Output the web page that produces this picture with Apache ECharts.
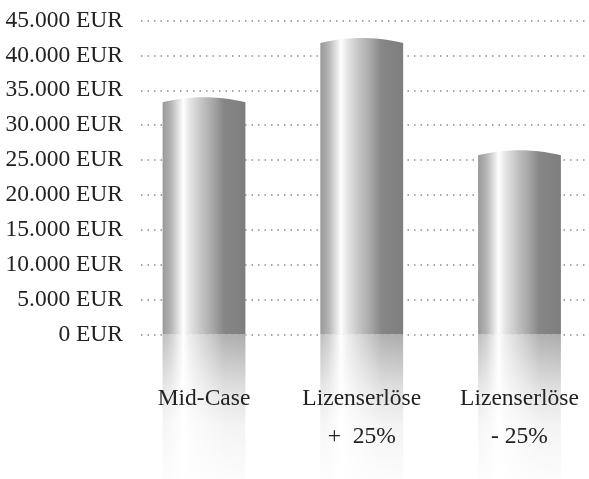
<!DOCTYPE html>
<html>
<head>
<meta charset="utf-8">
<script src="https://cdn.jsdelivr.net/npm/echarts@6/dist/echarts.min.js"></script>
<style>
  html, body { margin: 0; padding: 0; background: #fff; }
  #chart { width: 589px; height: 479px; }
</style>
</head>
<body>
<div id="chart"></div>
<script>
  'use strict'

  // data
  var categories = ['Mid-Case', 'Lizenserlöse\n+  25%', 'Lizenserlöse\n- 25%']
  var values = [34000, 42500, 26400]
  var yMin = 0
  var yMax = 45000
  var yStep = 5000

  var font = '"Liberation Serif", "Times New Roman", serif'

  function formatEur(v) {
    return String(v).replace(/\B(?=(\d{3})+(?!\d))/g, '.') + ' EUR'
  }

  function silver() {
    return new echarts.graphic.LinearGradient(0, 0, 1, 0, [
      { offset: 0, color: '#999999' },
      { offset: 0.1, color: '#b4b4b4' },
      { offset: 0.25, color: '#ffffff' },
      { offset: 0.32, color: '#e6e6e6' },
      { offset: 0.46, color: '#c6c6c6' },
      { offset: 0.62, color: '#a4a4a4' },
      { offset: 0.74, color: '#868686' },
      { offset: 1, color: '#7e7e7e' },
    ])
  }

  function renderBar(params, api) {
    var top = api.coord([api.value(0), api.value(1)])
    var base = api.coord([api.value(0), 0])
    var w = api.size([1, 0])[0] * 0.525
    var x0 = top[0] - w / 2
    var arc = 5
    var pts = [[x0, base[1]]]
    for (var i = 0; i <= 20; i++) {
      var t = i / 20
      var u = 2 * t - 1
      pts.push([x0 + w * t, top[1] + arc * u * u])
    }
    pts.push([x0 + w, base[1]])

    var reflH = 150
    return {
      type: 'group',
      children: [
        { type: 'polygon', shape: { points: pts }, style: { fill: silver() } },
        { type: 'rect', shape: { x: x0, y: base[1], width: w, height: reflH }, style: { fill: silver() } },
        {
          type: 'rect',
          shape: { x: x0 - 1, y: base[1], width: w + 2, height: reflH },
          style: {
            fill: new echarts.graphic.LinearGradient(0, 0, 0, 1, [
              { offset: 0, color: 'rgba(255,255,255,0.36)' },
              { offset: 0.35, color: 'rgba(255,255,255,0.74)' },
              { offset: 0.6, color: 'rgba(255,255,255,0.91)' },
              { offset: 1, color: 'rgba(255,255,255,0.985)' },
            ]),
          },
        },
      ],
    }
  }

  var chart = echarts.init(document.getElementById('chart'))

  chart.setOption({
    animation: false,
    backgroundColor: '#fff',
    grid: [
      { left: 141, right: 0, top: 20.5, height: 314 },
      { left: 204, width: 315.5, top: 20.5, height: 314 },
    ],
    xAxis: [
      { gridIndex: 0, type: 'category', data: categories, show: false },
      {
        gridIndex: 1,
        type: 'category',
        data: categories,
        boundaryGap: false,
        z: 10,
        axisLine: { show: false },
        axisTick: { show: false },
        axisLabel: {
          interval: 0,
          margin: 45,
          fontFamily: font,
          fontSize: 23.5,
          lineHeight: 38,
          color: '#222',
        },
      },
    ],
    yAxis: [
      {
        gridIndex: 0,
        type: 'value',
        min: yMin,
        max: yMax,
        interval: yStep,
        axisLine: { show: false },
        axisTick: { show: false },
        axisLabel: {
          margin: 18,
          fontFamily: font,
          fontSize: 23.5,
          color: '#222',
          formatter: formatEur,
        },
        splitLine: { lineStyle: { type: [1.5, 5], width: 1.5, color: '#8c8c8c' } },
      },
      { gridIndex: 1, type: 'value', min: yMin, max: yMax, show: false },
    ],
    series: [
      {
        type: 'custom',
        xAxisIndex: 1,
        yAxisIndex: 1,
        clip: false,
        renderItem: renderBar,
        data: values.map((v, i) => [i, v]),
      },
    ],
  })
</script>
</body>
</html>
